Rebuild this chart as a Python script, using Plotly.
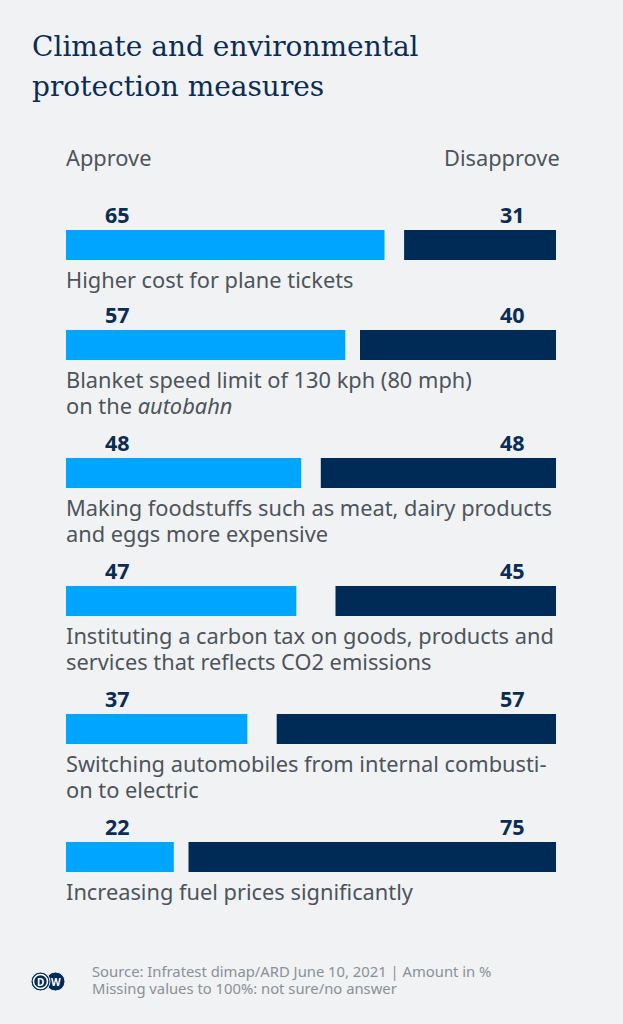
'''
DW chart: climate and environmental protection measures, approve vs disapprove
'''
import plotly.graph_objects as go

measures = [
    'Higher cost for plane tickets',
    'Blanket speed limit of 130 kph (80 mph)<br>on the <i>autobahn</i>',
    'Making foodstuffs such as meat, dairy products<br>and eggs more expensive',
    'Instituting a carbon tax on goods, products and<br>services that reflects CO2 emissions',
    'Switching automobiles from internal combusti-<br>on to electric',
    'Increasing fuel prices significantly',
]
approve = [65, 57, 48, 47, 37, 22]
disapprove = [31, 40, 48, 45, 57, 75]

title_lines = ['Climate and environmental', 'protection measures']
source_lines = ['Source: Infratest dimap/ARD June 10, 2021 | Amount in %',
                'Missing values to 100%: not sure/no answer']

W, H = 623, 1024
BG = '#f0f2f4'
LIGHT = '#00a5ff'
DARK = '#002b57'
NAVY = '#0b2c55'
GREY = '#4d545b'
FONT = 'Noto Sans'

def px_x(px):
    '''paper x from a pixel column'''
    return px / W

def px_y(px):
    '''paper y from a pixel row (top = 0)'''
    return 1 - px / H

def text_note(x, y, text, size, color, family=FONT, anchor='left'):
    '''annotation placed in pixel coordinates'''
    return dict(x=px_x(x), y=px_y(y), xref='paper', yref='paper', text=text,
                showarrow=False, xanchor=anchor, yanchor='middle', align=anchor,
                font=dict(family=family, size=size, color=color))

# row centres in pixels (y axis runs in pixels, top to bottom)
rows = []
y = 245
for label in measures:
    rows.append(y)
    lines = label.count('<br>') + 1
    y += 72 + 28 * lines

figure = go.Figure()
figure.add_trace(go.Bar(
    y=rows, x=approve, base=0, orientation='h', width=30,
    marker=dict(color=LIGHT, line=dict(width=0)), name='Approve',
))
figure.add_trace(go.Bar(
    y=rows, x=disapprove, base=[100 - d for d in disapprove], orientation='h', width=30,
    marker=dict(color=DARK, line=dict(width=0)), name='Disapprove',
))

annotations = []
for row, label, a, d in zip(rows, measures, approve, disapprove):
    annotations.append(dict(x=10.6, y=row - 31, xref='x', yref='y', text=f'<b>{a}</b>',
                            showarrow=False, xanchor='center', yanchor='middle',
                            font=dict(family=FONT, size=21.5, color=NAVY)))
    annotations.append(dict(x=91.2, y=row - 31, xref='x', yref='y', text=f'<b>{d}</b>',
                            showarrow=False, xanchor='center', yanchor='middle',
                            font=dict(family=FONT, size=21.5, color=NAVY)))
    for i, line in enumerate(label.split('<br>')):
        annotations.append(text_note(64, row + 34 + 26 * i, line, 21.8, GREY))

#headers
annotations.append(text_note(64, 157, 'Approve', 21.8, GREY))
annotations.append(text_note(562, 157, 'Disapprove', 21.8, GREY, anchor='right'))
#title
for i, line in enumerate(title_lines):
    annotations.append(text_note(30, 46 + 40 * i, line, 28, NAVY, family='DejaVu Serif'))
#footer
for i, line in enumerate(source_lines):
    annotations.append(text_note(90, 971 + 17 * i, line, 14.8, '#8a9097'))
#dw logo
shapes = []
for cx in [55.5, 40.5]:
    shapes.append(dict(type='circle', xref='paper', yref='paper',
                       x0=px_x(cx - 9.5), x1=px_x(cx + 9.5),
                       y0=px_y(991), y1=px_y(972),
                       fillcolor=DARK, line=dict(color=BG, width=1)))
shapes.append(dict(type='circle', xref='paper', yref='paper',
                   x0=px_x(40.5 - 7), x1=px_x(40.5 + 7), y0=px_y(988.5), y1=px_y(974.5),
                   fillcolor=DARK, line=dict(color='white', width=1.5)))
for cx, letter in [(40.5, 'D'), (56, 'W')]:
    annotations.append(dict(x=px_x(cx), y=px_y(981.5), xref='paper', yref='paper',
                            text=f'<b>{letter}</b>', showarrow=False,
                            xanchor='center', yanchor='middle',
                            font=dict(family=FONT, size=10, color='white')))

figure.update_layout(
    width=W, height=H,
    margin=dict(l=0, r=0, t=0, b=0),
    paper_bgcolor=BG, plot_bgcolor=BG,
    showlegend=False, barmode='overlay', hovermode=False,
    xaxis=dict(domain=[66 / W, 556 / W], range=[0, 100], visible=False, fixedrange=True),
    yaxis=dict(domain=[0, 1], range=[H, 0], visible=False, fixedrange=True),
    annotations=annotations, shapes=shapes,
)
figure.write_html('out.html', config={'displayModeBar': False},
                  post_script="document.body.style.margin='0';")
